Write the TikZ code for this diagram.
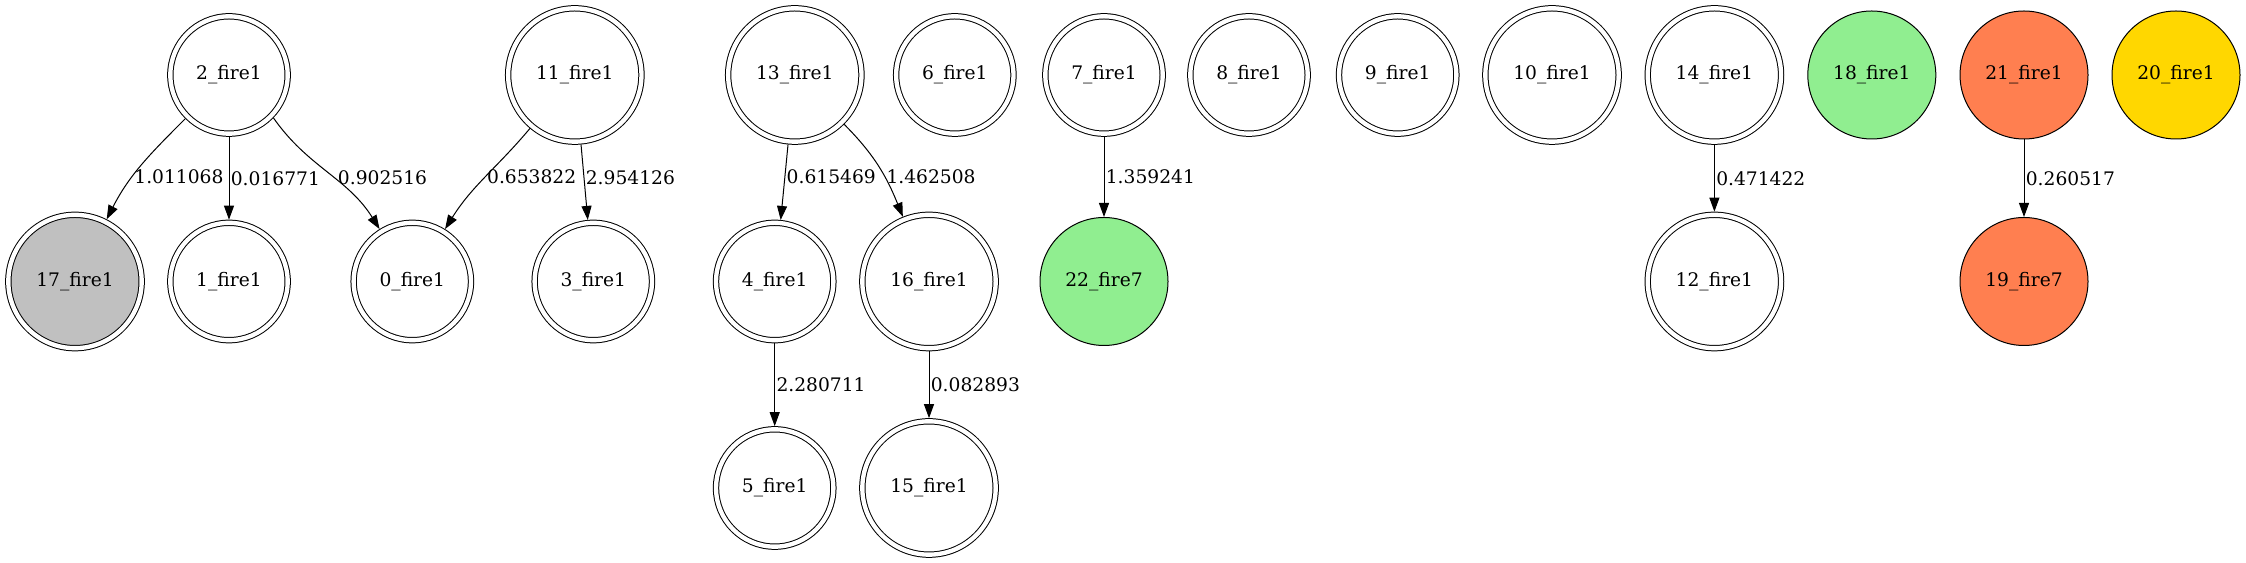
\documentclass[tikz,border=0pt]{standalone}
\usepackage{fontspec}
\setmainfont{DejaVu Serif}
\usetikzlibrary{arrows.meta}
\definecolor{lightgreen}{HTML}{90EE90}
\definecolor{coral}{HTML}{FF7F50}
\definecolor{gold}{HTML}{FFD700}
\definecolor{silver}{HTML}{C0C0C0}
\begin{document}
\begin{tikzpicture}[x=0.75pt,y=0.75pt,line width=0.75pt,
  font=\fontsize{14pt}{17pt}\selectfont,
  dblsmall/.style={circle,draw,double,double distance=3.25pt,minimum size=88pt,inner sep=0pt,outer sep=2.375pt},
  dblbig/.style={dblsmall,minimum size=100pt},
  filled/.style={circle,draw,minimum size=96pt,inner sep=0pt},
  link/.style={-{Triangle[length=10.5pt,width=7.5pt]}},
  weight/.style={anchor=west,inner sep=1pt}]
\useasboundingbox (0,0) rectangle (2246,563);

\node[dblsmall] (n2) at (229,488) {2\_fire1};
\node[dblbig] (n11) at (574.8,488) {11\_fire1};
\node[dblbig] (n13) at (794.8,488) {13\_fire1};
\node[dblsmall] (n6) at (954.8,488) {6\_fire1};
\node[dblsmall] (n7) at (1104,488) {7\_fire1};
\node[dblsmall] (n8) at (1249,488) {8\_fire1};
\node[dblsmall] (n9) at (1397.7,488) {9\_fire1};
\node[dblbig] (n10) at (1552,488) {10\_fire1};
\node[dblbig] (n14) at (1714.4,488) {14\_fire1};
\node[filled,fill=lightgreen] (n18) at (1871.8,488) {18\_fire1};
\node[filled,fill=coral] (n21) at (2024,488) {21\_fire1};
\node[filled,fill=gold] (n20) at (2176,488) {20\_fire1};

\node[dblbig,fill=silver] (n17) at (75,281.5) {17\_fire1};
\node[dblsmall] (n1) at (229,281.5) {1\_fire1};
\node[dblsmall] (n0) at (412.3,281.5) {0\_fire1};
\node[dblsmall] (n3) at (593.3,281.5) {3\_fire1};
\node[dblsmall] (n4) at (774.7,281.5) {4\_fire1};
\node[dblbig] (n16) at (929,281.5) {16\_fire1};
\node[filled,fill=lightgreen] (n22) at (1104,281.5) {22\_fire7};
\node[dblbig] (n12) at (1714.4,281.5) {12\_fire1};
\node[filled,fill=coral] (n19) at (2024,281.5) {19\_fire7};

\node[dblsmall] (n5) at (774.7,75) {5\_fire1};
\node[dblbig] (n15) at (929,75) {15\_fire1};

\draw[link] (n2) to[out=-135,in=63] node[weight,pos=0.62]{1.011068} (n17);
\draw[link] (n2) -- node[weight]{0.016771} (n1);
\draw[link] (n2.-44) to[out=-55,in=122] node[weight,pos=0.555,xshift=2pt]{0.902516} (n0);
\draw[link] (n11) to[out=-130,in=58] node[weight]{0.653822} (n0);
\draw[link] (n11) -- node[weight,pos=0.44]{2.954126} (n3);
\draw[link] (n13) -- node[weight,pos=0.43]{0.615469} (n4);
\draw[link] (n13) to[out=-45,in=112] node[weight,pos=0.615]{1.462508} (n16);
\draw[link] (n7) -- node[weight]{1.359241} (n22);
\draw[link] (n4) -- node[weight]{2.280711} (n5);
\draw[link] (n16) -- node[weight]{0.082893} (n15);
\draw[link] (n14) -- node[weight]{0.471422} (n12);
\draw[link] (n21) -- node[weight]{0.260517} (n19);
\end{tikzpicture}
\end{document}
